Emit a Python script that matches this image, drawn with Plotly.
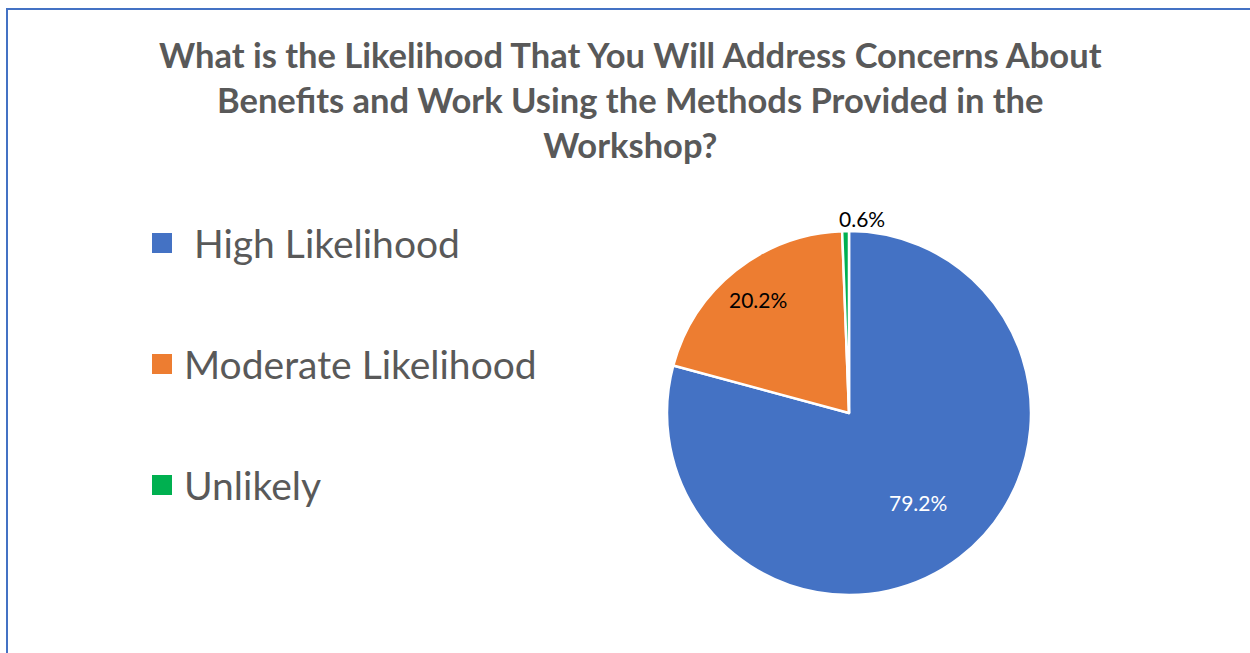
import math
import plotly.graph_objects as go

# Survey responses
categories = ["High Likelihood", "Moderate Likelihood", "Unlikely"]
shares = [79.2, 20.2, 0.6]
colors = ["#4472C4", "#ED7D31", "#00B050"]
label_colors = ["#FFFFFF", "#000000", "#000000"]
title_text = ("What is the Likelihood That You Will Address Concerns About<br>"
              "Benefits and Work Using the Methods Provided in the<br>Workshop?")

W, H = 1250, 653
FONT = "Lato"

# pie geometry in pixels
cx, cy, R = 849, 413, 182
dom_x = [(cx - R) / W, (cx + R) / W]
dom_y = [(H - cy - R) / H, (H - cy + R) / H]

fig = go.Figure(go.Pie(
    labels=categories,
    values=shares,
    sort=False,
    direction="clockwise",
    rotation=0,
    marker=dict(colors=colors, line=dict(color="white", width=2.5)),
    textinfo="none",
    hoverinfo="label+percent",
    showlegend=False,
    domain=dict(x=dom_x, y=dom_y),
))

annotations = []
# slice labels placed along each slice's mid-angle
radial = [0.62, 0.80, 1.07]
anchors = ["center", "center", "left"]
total = sum(shares)
start = 0.0
for v, rf, lc, anc in zip(shares, radial, label_colors, anchors):
    mid = (start + v / 2) / total * 2 * math.pi
    start += v
    px = cx + rf * R * math.sin(mid)
    py = cy - rf * R * math.cos(mid)
    if anc == "left":
        px -= 8
    annotations.append(dict(
        x=px / W, y=1 - py / H, xref="paper", yref="paper",
        text=f"{v:.1f}%", showarrow=False,
        font=dict(family=FONT, size=21, color=lc),
        xanchor=anc, yanchor="middle",
    ))

# legend drawn as squares plus text
shapes = []
leg_x, leg_y0, leg_step = 152, 243, 121
for i, (name, c) in enumerate(zip(categories, colors)):
    yc = leg_y0 + i * leg_step
    shapes.append(dict(
        type="rect", xref="paper", yref="paper",
        x0=leg_x / W, x1=(leg_x + 20) / W,
        y0=1 - (yc + 10) / H, y1=1 - (yc - 10) / H,
        fillcolor=c, line=dict(width=0),
    ))
    annotations.append(dict(
        x=(leg_x + 30 + (10 if i == 0 else 0)) / W, y=1 - yc / H,
        xref="paper", yref="paper", text=name, showarrow=False,
        xanchor="left", yanchor="middle",
        font=dict(family=FONT, size=39, color="#595959"),
    ))

# outer frame
shapes.append(dict(
    type="rect", xref="paper", yref="paper",
    x0=7 / W, x1=1.02, y0=-0.02, y1=1 - 9 / H,
    line=dict(color="#4472C4", width=2), fillcolor="rgba(0,0,0,0)",
))

annotations.append(dict(
    x=630 / W, y=1 - 100 / H, xref="paper", yref="paper",
    text=f"<b>{title_text}</b>", showarrow=False,
    xanchor="center", yanchor="middle", align="center",
    font=dict(family=FONT, size=34.5, color="#595959"),
))

fig.update_layout(
    width=W, height=H,
    margin=dict(l=0, r=0, t=0, b=0),
    paper_bgcolor="white",
    plot_bgcolor="white",
    annotations=annotations,
    shapes=shapes,
)

fig.write_html("out.html")
